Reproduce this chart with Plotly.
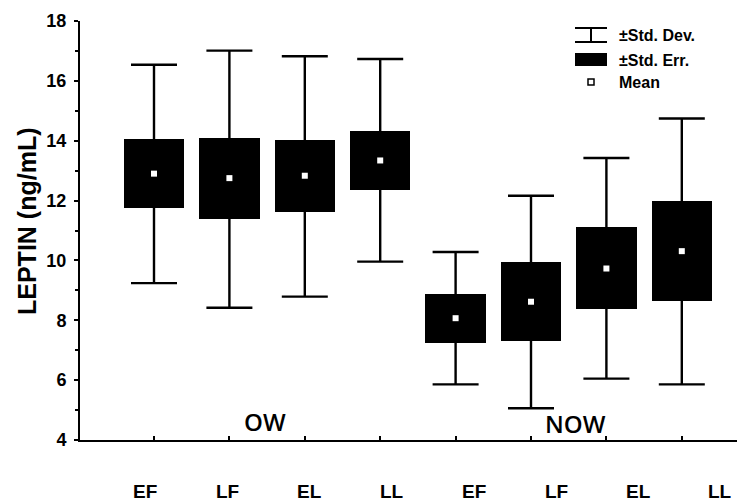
import plotly.graph_objects as go

# ---- data ----
categories = ["EF", "LF", "EL", "LL", "EF", "LF", "EL", "LL"]
groups = ["OW", "NOW"]
mean_vals = [12.90, 12.75, 12.83, 13.34, 8.07, 8.62, 9.73, 10.31]
se_low = [11.75, 11.39, 11.62, 12.36, 7.25, 7.31, 8.37, 8.65]
se_high = [14.06, 14.09, 14.03, 14.34, 8.88, 9.95, 11.13, 11.97]
sd_low = [9.24, 8.42, 8.79, 9.96, 5.86, 5.06, 6.05, 5.86]
sd_high = [16.54, 17.01, 16.82, 16.73, 10.28, 12.16, 13.42, 14.74]
y_ticks = [4, 6, 8, 10, 12, 14, 16, 18]
legend_labels = ["±Std. Dev.", "±Std. Err.", "Mean"]

# ---- layout helpers (page pixels; the page body has an 8px margin) ----
OFF = 8
PAGE_W, PAGE_H = 745, 501
W, H = PAGE_W - OFF, PAGE_H - OFF
PLOT_L, PLOT_R, PLOT_T, PLOT_B = 80, 745, 21, 440  # page pixels of the plot area
ML, MR, MT, MB = PLOT_L - OFF, PAGE_W - PLOT_R, PLOT_T - OFF, PAGE_H - PLOT_B
PW, PH = PLOT_R - PLOT_L, PLOT_B - PLOT_T


def px(x):
    return (x - PLOT_L) / PW


def py(y):
    return (PLOT_B - y) / PH


xpos = list(range(len(categories)))
FONT = "Arial, Liberation Sans, sans-serif"
X0, XSTEP = 154, 75.4  # page pixel of first box centre, spacing

fig = go.Figure()

# Std. Err. boxes
fig.add_trace(go.Bar(
    x=xpos,
    y=[h - l for h, l in zip(se_high, se_low)],
    base=se_low,
    width=0.8,
    marker=dict(color="black", line=dict(width=0)),
    showlegend=False,
    hoverinfo="skip",
))

# Std. Dev. whiskers + mean markers
fig.add_trace(go.Scatter(
    x=xpos,
    y=mean_vals,
    mode="markers",
    marker=dict(symbol="square", size=6, color="white", line=dict(width=0)),
    error_y=dict(
        type="data",
        symmetric=False,
        array=[h - m for h, m in zip(sd_high, mean_vals)],
        arrayminus=[m - l for m, l in zip(mean_vals, sd_low)],
        color="black",
        thickness=2.4,
        width=23,
    ),
    showlegend=False,
    hoverinfo="skip",
))

annotations = []
# category labels (offset from ticks, as in the reference)
LAB_START, LAB_STEP = 145, 82.2
for i, c in enumerate(categories):
    annotations.append(dict(
        x=px(LAB_START + LAB_STEP * i), y=py(491), xref="paper", yref="paper",
        text=c, showarrow=False, xanchor="center", yanchor="middle",
        font=dict(family=FONT, size=19, color="black", weight="bold"),
    ))

# group labels
for g, (gx, gy) in zip(groups, [(265, 421), (575, 423)]):
    annotations.append(dict(
        x=px(gx), y=py(gy), xref="paper", yref="paper",
        text=g, showarrow=False, xanchor="center", yanchor="middle",
        font=dict(family="Open Sans, sans-serif", size=24, color="black", weight=600),
    ))

# y-axis title
annotations.append(dict(
    x=px(27), y=py(222), xref="paper", yref="paper",
    text="<b>LEPTIN (ng/mL)</b>", showarrow=False, textangle=-90,
    xanchor="center", yanchor="middle",
    font=dict(family=FONT, size=25, color="black"),
))

# legend texts
for lab, ly in zip(legend_labels, [35, 60, 82]):
    annotations.append(dict(
        x=px(617), y=py(ly), xref="paper", yref="paper",
        text="<b>" + lab + "</b>", showarrow=False, xanchor="left", yanchor="middle",
        font=dict(family=FONT, size=16, color="black"),
    ))

shapes = [
    # I symbol (Std. Dev.)
    dict(type="line", xref="paper", yref="paper", x0=px(591), x1=px(591), y0=py(28), y1=py(42),
         line=dict(color="black", width=2)),
    dict(type="line", xref="paper", yref="paper", x0=px(575), x1=px(607), y0=py(28), y1=py(28),
         line=dict(color="black", width=2)),
    dict(type="line", xref="paper", yref="paper", x0=px(575), x1=px(607), y0=py(42), y1=py(42),
         line=dict(color="black", width=2)),
    # box symbol (Std. Err.)
    dict(type="rect", xref="paper", yref="paper", x0=px(575), x1=px(607), y0=py(53), y1=py(66),
         fillcolor="black", line=dict(width=0)),
    # mean symbol
    dict(type="rect", xref="paper", yref="paper", x0=px(588), x1=px(594), y0=py(79), y1=py(85),
         fillcolor="white", line=dict(color="black", width=1.5)),
]

fig.update_layout(
    width=W, height=H,
    margin=dict(l=ML, r=MR, t=MT, b=MB, pad=0),
    paper_bgcolor="white", plot_bgcolor="white",
    annotations=annotations,
    shapes=shapes,
    bargap=0,
    xaxis=dict(
        range=[(PLOT_L - X0) / XSTEP, (PLOT_R - X0) / XSTEP],
        tickvals=xpos, showticklabels=False,
        ticks="inside", ticklen=4, tickwidth=1.5, tickcolor="black",
        showline=True, linecolor="black", linewidth=2,
        showgrid=False, zeroline=False,
    ),
    yaxis=dict(
        range=[4, 18], tickvals=y_ticks,
        ticks="outside", ticklen=4, tickwidth=1.5, tickcolor="black",
        minor=dict(dtick=1, ticks="outside", ticklen=3, tickwidth=1.5, tickcolor="black", showgrid=False),
        showline=True, linecolor="black", linewidth=2,
        showgrid=False, zeroline=False,
        tickfont=dict(family=FONT, size=18, color="black", weight="bold"),
        ticklabelstandoff=4,
    ),
)

fig.write_html("out.html")
